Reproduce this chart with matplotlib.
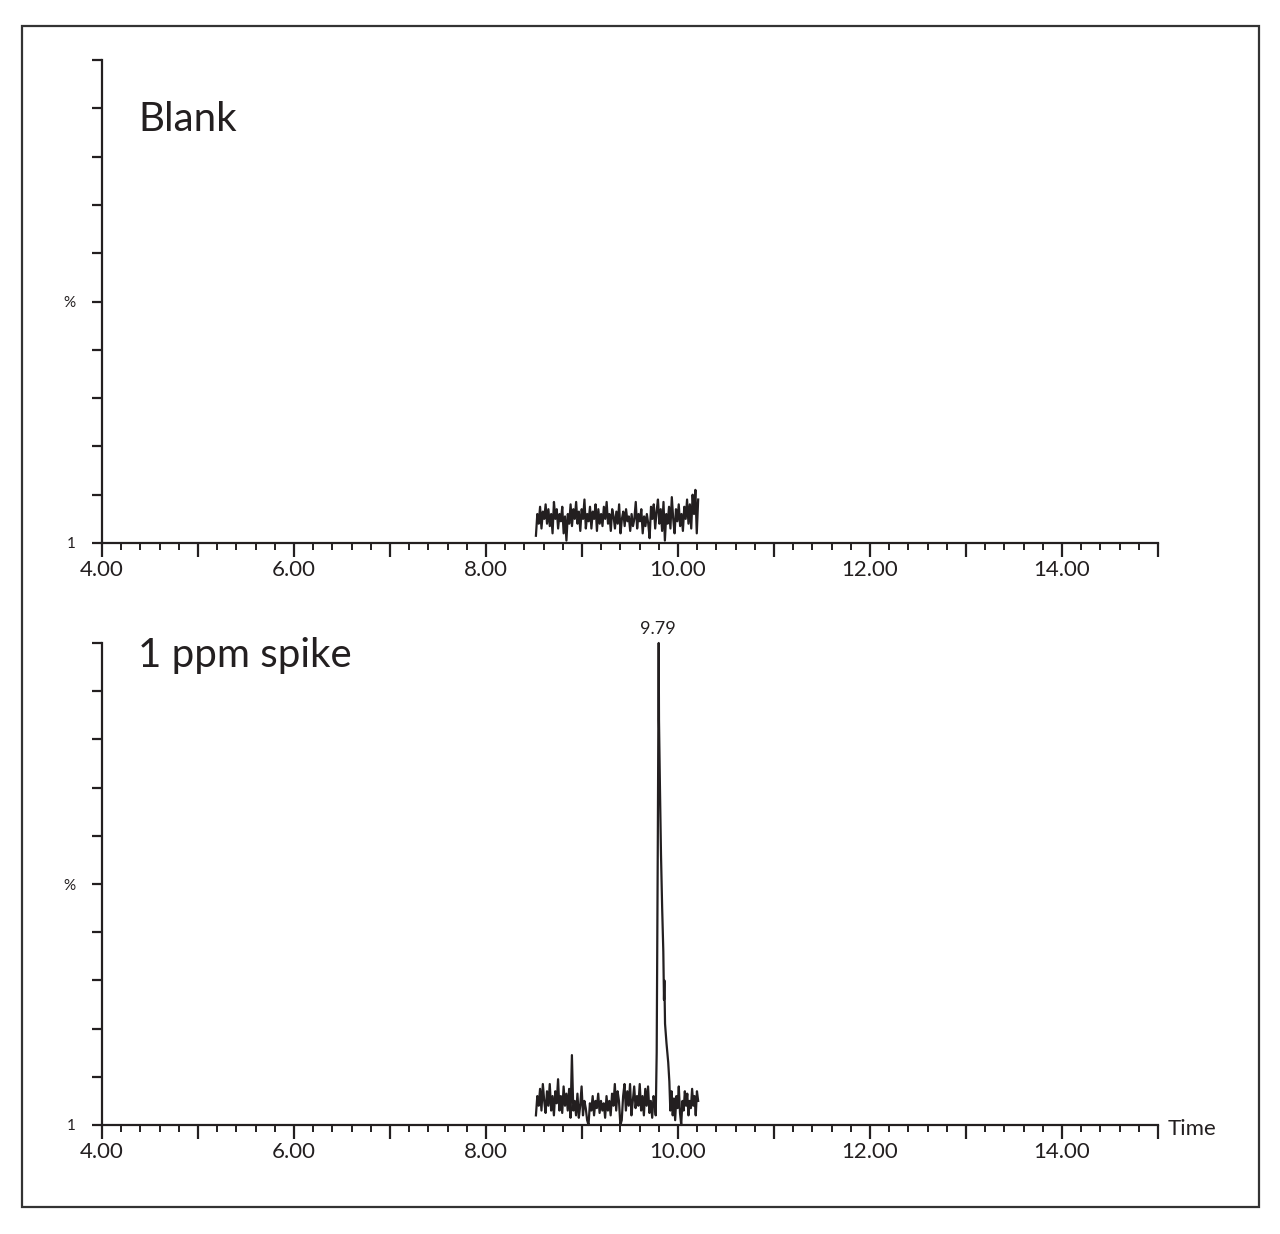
import numpy as np
import matplotlib
matplotlib.use("Agg")
import matplotlib.pyplot as plt
from matplotlib.patches import Rectangle
from matplotlib.ticker import MultipleLocator, FuncFormatter

plt.rcParams['font.family'] = ['Lato', 'DejaVu Sans']

INK = '#231f20'

# ---- data ----
# Blank: noise trace, evenly sampled between these times
blank_start, blank_end = 8.52, 10.21
blank_vals = [1.5, 6, 4, 7.5, 3, 6.5, 5, 8, 4, 7, 3.5, 6, 2,
              8.5, 5, 7, 3, 6, 4.5, 7.5, 2, 5.5, 0.5, 6, 4, 8,
              3.5, 7, 5, 8.5, 4, 6.5, 2.5, 7, 5, 9, 3, 6, 4.5, 7.5,
              3, 6.5, 5, 8, 2.5, 7, 4, 6, 3.5, 7.5, 5, 8.5, 4, 6,
              2.5, 7, 5.5, 3, 6.5, 4, 8, 2, 5, 6.5, 3.5, 7, 4.5, 5.5,
              2.5, 6, 3.5, 5, 8.5, 3, 6, 4.5, 7, 2, 5.5, 3.5, 6, 4,
              1, 7.5, 5, 8, 3, 6.5, 9, 4, 7, 2.5, 8.5, 0.5, 6, 4,
              7.5, 3, 9.5, 5, 2, 7, 4.5, 8, 3.5, 6, 2.5, 7.5, 5, 9,
              4, 8, 3, 10, 6, 11, 2, 9]

# 1 ppm spike: noise before the peak, the peak itself, noise after
spike_pre_start, spike_pre_end = 8.52, 9.76
spike_pre_vals = [2, 6, 4, 7.5, 3, 8.5, 5, 2.5, 7, 4, 8.5, 3, 6,
                  2, 7, 4.5, 9.5, 3, 6, 2.5, 8, 4, 6.5, 3, 7.5, 1.5,
                  14.5, 3, 5, 2, 6.5, 1.5, 4,
                  8, 2, 5, 3.5, 1, 0, 4.5, 3, 6, 2, 5, 3.5, 6.5, 2.5,
                  5, 3, 4.5, 1.5, 6, 3, 5, 2, 6.5, 4, 8.5, 3, 7, 5,
                  0, 1, 6, 8.5, 3, 7, 4, 8.5, 2, 5, 8, 3.5, 6, 4,
                  8.5, 3, 6, 2, 7.5, 4, 8, 2.5, 5, 1.5, 6, 4]
peak_times = [9.768, 9.778, 9.790, 9.799, 9.802, 9.812, 9.823, 9.835,
              9.847, 9.854, 9.858, 9.865, 9.880, 9.898, 9.910]
peak_vals = [2, 15, 60, 100, 84, 70, 56, 45, 36, 26, 30, 21, 17, 13, 9]
spike_post_start, spike_post_end = 9.92, 10.21
spike_post_vals = [3, 7, 2, 5.5, 1, 6, 3.5, 8, 2.5, 0, 5, 3, 7, 4,
                   6.5, 2, 5, 3.5, 7.5, 4, 6, 2, 7, 5]

peak_label = '9.79'
panel_names = ['Blank', '1 ppm spike']
name_baselines = [131, 667]   # pixel rows of the panel titles


def setupAxis(ax):
    for side in ['top', 'right']:
        ax.spines[side].set_visible(False)
    for side in ['left', 'bottom']:
        ax.spines[side].set_linewidth(1.6)
        ax.spines[side].set_color(INK)
    ax.set_xlim(4, 15)
    ax.set_ylim(0, 100)
    ax.xaxis.set_major_locator(MultipleLocator(1))
    ax.xaxis.set_minor_locator(MultipleLocator(0.2))
    ax.xaxis.set_major_formatter(FuncFormatter(
        lambda v, p: '%.2f' % v if round(v) % 2 == 0 and v < 14.5 else ''))
    ax.tick_params(axis='x', which='major', direction='out', length=10,
                   width=1.6, color=INK, labelsize=16, labelcolor=INK, pad=2)
    ax.tick_params(axis='x', which='minor', direction='out', length=5,
                   width=1.4, color=INK)
    ax.set_yticks(range(0, 101, 10))
    ax.set_yticklabels(['1', '', '', '', '', '%', '', '', '', '', ''])
    ax.tick_params(axis='y', direction='out', length=7, width=1.6,
                   color=INK, labelsize=11, labelcolor=INK, pad=12)


fig = plt.figure(figsize=(12.8, 12.34), dpi=100)
ax1 = fig.add_axes([102 / 1280, 1 - 543 / 1234, 1056 / 1280, 483 / 1234])
ax2 = fig.add_axes([102 / 1280, 1 - 1125 / 1234, 1056 / 1280, 482 / 1234])

# top panel
t_blank = np.linspace(blank_start, blank_end, len(blank_vals))
ax1.plot(t_blank, blank_vals, color=INK, lw=1.6, clip_on=False)
setupAxis(ax1)

# bottom panel
t_pre = np.linspace(spike_pre_start, spike_pre_end, len(spike_pre_vals))
t_post = np.linspace(spike_post_start, spike_post_end, len(spike_post_vals))
t_spike = np.concatenate([t_pre, peak_times, t_post])
v_spike = np.concatenate([spike_pre_vals, peak_vals, spike_post_vals])
ax2.plot(t_spike, v_spike, color=INK, lw=1.6, clip_on=False)
setupAxis(ax2)
ax2.text(peak_times[3] - 0.01, 101.2, peak_label, fontsize=13, color=INK,
         ha='center', va='bottom')
ax2.text(15.1, -0.8, 'Time', fontsize=16, color=INK, ha='left',
         va='center')

for name, base in zip(panel_names, name_baselines):
    fig.text(138 / 1280, 1 - base / 1234, name, fontsize=29, color=INK,
             ha='left', va='baseline')

# outer frame
fig.patches.append(Rectangle((22 / 1280, 1 - 1207 / 1234),
                             1237 / 1280, 1181 / 1234,
                             transform=fig.transFigure, fill=False,
                             edgecolor='#333333', lw=1.6))

plt.savefig('out.png', dpi=100)
